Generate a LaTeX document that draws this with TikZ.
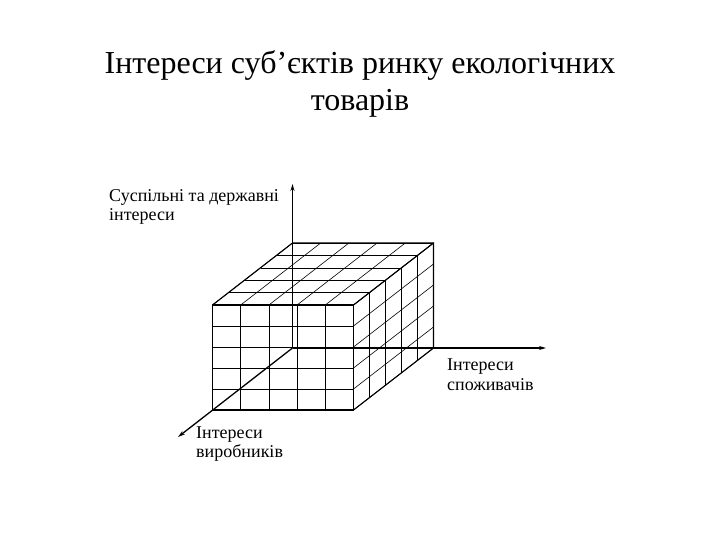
\documentclass[tikz,border=0pt]{standalone}
\usepackage{fontspec}
\setmainfont{Liberation Serif}
\usetikzlibrary{arrows.meta}

\begin{document}
\begin{tikzpicture}[x=1pt, y=-1pt,
    axis/.style={line width=1.3pt, -{Stealth[length=7pt, width=4pt]}},
    gridline/.style={line width=0.6pt},
    edge/.style={line width=1.1pt, line cap=round},
    label/.style={font=\fontsize{18}{19.5}\selectfont, align=left, inner sep=0pt},
    title/.style={font=\fontsize{32}{37}\selectfont, align=center, inner sep=0pt}]

    % Canvas
    \useasboundingbox (0,0) rectangle (720,540);

    % Origin of the axes and size of the cube
    \def\ox{292.5}
    \def\oy{348}
    \def\w{141}    % along the consumers axis
    \def\h{105}    % height
    \def\dx{-80}   % depth, x
    \def\dy{62}    % depth, y
    \def\n{5}      % cells per side

    % Title (base = last line)
    \node[title, anchor=base] (title) at (360,111)
        {Інтереси суб’єктів ринку екологічних\\товарів};

    % Axis ends
    \coordinate (O) at (\ox,\oy);
    \coordinate (social) at (\ox,184);
    \coordinate (consumers) at (546,\oy);
    \coordinate (producers) at (178,437);

    % Front face
    \foreach \i in {0,...,\n}{
        \draw[gridline] ({\ox+\i*\w/\n+\dx},{\oy+\dy}) -- ({\ox+\i*\w/\n+\dx},{\oy-\h+\dy});
        \draw[gridline] ({\ox+\dx},{\oy-\i*\h/\n+\dy}) -- ({\ox+\w+\dx},{\oy-\i*\h/\n+\dy});
    }
    % Top face
    \foreach \i in {0,...,\n}{
        \draw[gridline] ({\ox+\i*\w/\n},{\oy-\h}) -- ({\ox+\i*\w/\n+\dx},{\oy-\h+\dy});
        \draw[gridline] ({\ox+\i*\dx/\n},{\oy-\h+\i*\dy/\n}) -- ({\ox+\w+\i*\dx/\n},{\oy-\h+\i*\dy/\n});
    }
    % Right face
    \foreach \i in {0,...,\n}{
        \draw[gridline] ({\ox+\w},{\oy-\i*\h/\n}) -- ({\ox+\w+\dx},{\oy-\i*\h/\n+\dy});
        \draw[gridline] ({\ox+\w+\i*\dx/\n},{\oy+\i*\dy/\n}) -- ({\ox+\w+\i*\dx/\n},{\oy-\h+\i*\dy/\n});
    }

    % Outer edges
    \draw[edge] ({\ox+\dx},{\oy+\dy}) rectangle ({\ox+\w+\dx},{\oy-\h+\dy});
    \draw[edge] ({\ox+\dx},{\oy-\h+\dy}) -- ({\ox},{\oy-\h}) -- ({\ox+\w},{\oy-\h})
        -- ({\ox+\w},{\oy}) -- ({\ox+\w+\dx},{\oy+\dy});
    \draw[edge] ({\ox+\w},{\oy-\h}) -- ({\ox+\w+\dx},{\oy-\h+\dy});

    % Axes
    \draw[axis] (O) -- (social);
    \draw[axis] (O) -- (consumers);
    \draw[axis] (O) -- (producers);

    % Axis labels (base = last line)
    \node[label, anchor=base west] (lsocial) at (109,221) {Суспільні та державні\\інтереси};
    \node[label, anchor=base west] (lconsumers) at (447,390) {Інтереси\\споживачів};
    \node[label, anchor=base west] (lproducers) at (196,457.5) {Інтереси\\виробників};

\end{tikzpicture}
\end{document}
